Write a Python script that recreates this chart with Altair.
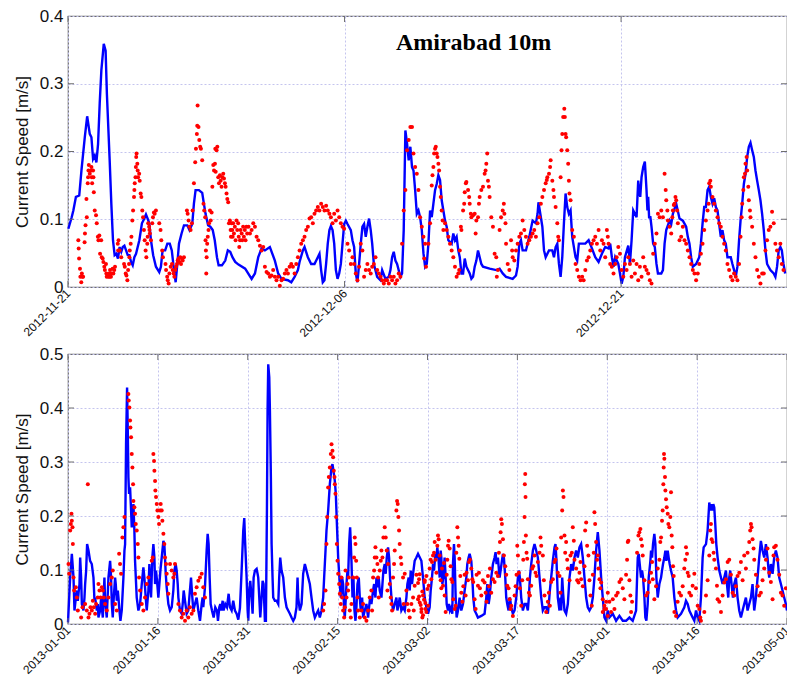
import altair as alt
import pandas as pd

# ---------------- text / axes ----------------
TITLE = "Amirabad 10m"
Y_TITLE = "Current Speed [m/s]"
TOP_START, TOP_END = "2012-11-21", "2012-12-30"
BOT_START, BOT_END = "2013-01-01", "2013-05-01"
TOP_TICKS = ["2012-11-21", "2012-12-06", "2012-12-21"]
BOT_TICKS = ["2013-01-01", "2013-01-16", "2013-01-31", "2013-02-15", "2013-03-02",
             "2013-03-17", "2013-04-01", "2013-04-16", "2013-05-01"]
TOP_YTICKS = [0, 0.1, 0.2, 0.3, 0.4]
BOT_YTICKS = [0, 0.1, 0.2, 0.3, 0.4, 0.5]
TITLE_POS = ("2012-12-13", 0.35)

# ---------------- data: (days after panel start, speed m/s) ----------------
MODEL_TOP = [
(0.02,.086),(0.20,.103),(0.29,.113),(0.43,.133),(0.61,.135),(0.73,.172),(0.91,.221),(1.04,.252),
(1.18,.226),(1.27,.221),(1.36,.189),(1.45,.194),(1.54,.184),(1.63,.211),(1.72,.271),(1.81,.320),
(1.94,.359),(2.04,.349),(2.11,.285),(2.26,.187),(2.35,.123),(2.44,.069),(2.53,.047),(2.62,.049),
(2.71,.042),(2.80,.059),(2.89,.052),(2.97,.059),(3.06,.061),(3.15,.054),(3.24,.047),(3.33,.047),
(3.42,.037),(3.51,.032),(3.60,.044),(3.69,.049),(3.87,.069),(4.01,.094),(4.14,.101),(4.23,.107),
(4.32,.101),(4.41,.094),(4.50,.069),(4.62,.047),(4.77,.030),(4.95,.022),(5.04,.030),(5.13,.054),
(5.27,.054),(5.39,.064),(5.52,.064),(5.63,.054),(5.75,.025),(5.84,.007),(5.93,.034),(6.02,.064),
(6.16,.079),(6.29,.091),(6.47,.091),(6.59,.084),(6.74,.093),(6.83,.123),(6.92,.143),(7.10,.143),
(7.28,.139),(7.37,.123),(7.46,.108),(7.60,.091),(7.72,.089),(7.85,.084),(7.96,.069),(8.08,.044),
(8.17,.032),(8.35,.032),(8.53,.039),(8.67,.054),(8.80,.052),(8.92,.044),(9.07,.037),(9.25,.033),
(9.61,.027),(9.96,.012),(10.14,.020),(10.32,.044),(10.50,.057),(10.68,.054),(10.95,.059),(11.22,.039),
(11.40,.020),(11.58,.012),(11.93,.010),(12.11,.007),(12.29,.015),(12.47,.025),(12.56,.037),(12.74,.054),
(12.83,.059),(13.01,.044),(13.19,.034),(13.37,.034),(13.55,.044),(13.64,.049),(13.73,.025),(13.82,.007),
(13.91,.010),(14.00,.034),(14.09,.064),(14.18,.084),(14.26,.090),(14.35,.084),(14.44,.064),(14.53,.025),
(14.62,.012),(14.71,.020),(14.80,.034),(14.89,.064),(14.98,.093),(15.07,.098),(15.16,.093),(15.34,.084),
(15.43,.069),(15.52,.059),(15.61,.020),(15.70,.007),(15.79,.034),(15.88,.064),(15.97,.089),(16.06,.093),
(16.15,.074),(16.24,.089),(16.33,.101),(16.42,.084),(16.50,.064),(16.59,.034),(16.77,.015),(16.95,.010),
(17.04,.025),(17.22,.012),(17.40,.015),(17.49,.025),(17.58,.044),(17.67,.052),(17.76,.039),(17.85,.034),
(18.03,.015),(18.12,.020),(18.21,.084),(18.30,.231),(18.39,.212),(18.48,.187),(18.57,.207),(18.66,.177),
(18.74,.172),(18.83,.143),(18.92,.108),(19.01,.113),(19.10,.103),(19.19,.084),(19.28,.050),(19.37,.030),
(19.46,.034),(19.55,.064),(19.64,.113),(19.73,.103),(19.82,.123),(19.91,.143),(20.00,.152),(20.09,.165),
(20.18,.158),(20.27,.128),(20.36,.113),(20.45,.098),(20.54,.089),(20.63,.069),(20.81,.064),(20.90,.079),
(20.99,.069),(21.08,.074),(21.17,.054),(21.25,.044),(21.34,.020),(21.43,.020),(21.52,.042),(21.61,.030),
(21.79,.020),(21.88,.012),(21.97,.015),(22.06,.030),(22.15,.039),(22.24,.054),(22.33,.044),(22.42,.034),
(22.51,.030),(22.87,.027),(23.23,.025),(23.41,.027),(23.58,.020),(23.76,.015),(24.12,.012),(24.30,.017),
(24.39,.030),(24.48,.064),(24.57,.069),(24.66,.054),(24.84,.054),(25.02,.074),(25.20,.098),(25.38,.094),
(25.47,.108),(25.52,.125),(25.59,.113),(25.73,.089),(25.82,.054),(25.91,.044),(26.09,.054),(26.27,.054),
(26.36,.044),(26.45,.059),(26.54,.064),(26.63,.034),(26.72,.015),(26.81,.044),(26.90,.094),(26.99,.138),
(27.08,.118),(27.17,.108),(27.26,.113),(27.35,.074),(27.53,.044),(27.62,.039),(27.71,.064),(28.06,.064),
(28.24,.069),(28.42,.057),(28.60,.044),(28.78,.037),(28.96,.049),(29.14,.059),(29.32,.057),(29.41,.064),
(29.50,.044),(29.59,.030),(29.68,.044),(29.85,.034),(29.94,.020),(30.03,.005),(30.12,.015),(30.21,.044),
(30.39,.061),(30.48,.034),(30.57,.069),(30.66,.113),(30.75,.108),(30.84,.103),(30.93,.157),(30.98,.143),
(31.04,.133),(31.11,.162),(31.20,.177),(31.29,.185),(31.38,.143),(31.43,.113),(31.47,.133),(31.52,.103),
(31.59,.103),(31.65,.089),(31.74,.064),(31.83,.059),(31.92,.034),(32.00,.020),(32.18,.020),(32.27,.025),
(32.36,.064),(32.45,.084),(32.63,.098),(32.72,.093),(32.81,.108),(32.99,.123),(33.17,.101),(33.35,.098),
(33.53,.089),(33.62,.074),(33.71,.064),(33.80,.044),(33.89,.030),(34.07,.034),(34.24,.044),(34.33,.064),
(34.42,.094),(34.51,.118),(34.60,.118),(34.69,.143),(34.78,.148),(34.87,.133),(34.96,.123),(35.05,.131),
(35.14,.118),(35.23,.113),(35.32,.093),(35.41,.074),(35.50,.084),(35.59,.069),(35.68,.064),(35.77,.044),
(35.95,.044),(36.04,.034),(36.13,.025),(36.22,.015),(36.31,.030),(36.40,.069),(36.48,.098),(36.57,.123),
(36.66,.152),(36.75,.167),(36.84,.192),(36.93,.207),(37.02,.213),(37.11,.202),(37.20,.192),(37.29,.172),
(37.38,.157),(37.47,.143),(37.56,.128),(37.65,.108),(37.74,.084),(37.83,.054),(37.92,.034),(38.10,.025),
(38.28,.020),(38.37,.015),(38.46,.030),(38.55,.054),(38.64,.059),(38.72,.054),(38.81,.034),(38.90,.020),
]

OBS_TOP = [
(0.56,.069),(0.58,.057),(0.60,.042),(0.65,.027),(0.67,.015),(0.72,.007),(0.75,.020),(0.78,.015),(0.82,.015),
(0.90,.066),(0.92,.079),(0.95,.091),(1.00,.130),(1.02,.103),(1.07,.153),(1.09,.162),(1.11,.172),(1.13,.180),
(1.18,.167),(1.25,.172),(1.27,.177),(1.29,.162),(1.31,.153),(1.36,.172),(1.38,.162),(1.40,.140),(1.45,.113),
(1.52,.106),(1.56,.094),(1.62,.074),(1.65,.069),(1.70,.076),(1.74,.049),(1.80,.069),(1.83,.044),(1.88,.042),
(1.92,.037),(1.97,.030),(2.00,.025),(2.06,.034),(2.08,.020),(2.10,.015),(2.15,.017),(2.19,.015),(2.24,.020),
(2.26,.015),(2.28,.025),(2.33,.015),(2.37,.020),(2.42,.027),(2.46,.020),(2.51,.025),(2.55,.030),(2.70,.064),
(2.72,.054),(2.74,.069),(2.80,.054),(2.89,.044),(3.04,.034),(3.08,.030),(3.13,.020),(3.17,.017),(3.22,.010),
(3.26,.025),(3.31,.034),(3.33,.044),(3.35,.054),(3.40,.064),(3.44,.074),(3.49,.098),(3.53,.113),(3.58,.133),
(3.60,.143),(3.62,.153),(3.66,.162),(3.68,.177),(3.70,.192),(3.72,.197),(3.76,.182),(3.78,.172),(3.80,.162),
(3.86,.167),(3.89,.157),(3.94,.138),(3.98,.133),(4.03,.113),(4.07,.103),(4.12,.084),(4.16,.069),(4.21,.054),
(4.25,.044),(4.30,.064),(4.32,.074),(4.35,.094),(4.40,.089),(4.42,.084),(4.44,.079),(4.50,.069),(4.57,.094),
(4.61,.103),(4.66,.110),(4.70,.108),(4.77,.113),(4.95,.094),(5.02,.084),(5.06,.069),(5.11,.054),(5.15,.044),
(5.29,.034),(5.32,.025),(5.38,.015),(5.41,.010),(5.46,.005),(5.50,.020),(5.57,.030),(5.64,.034),(5.68,.025),
(5.73,.020),(5.77,.015),(5.82,.025),(5.86,.030),(5.91,.034),(5.95,.039),(6.00,.042),(6.04,.037),(6.09,.044),
(6.13,.034),(6.18,.042),(6.22,.039),(6.29,.044),(6.45,.113),(6.49,.108),(6.54,.098),(6.58,.089),(6.65,.084),
(6.72,.094),(6.76,.113),(6.83,.153),(6.90,.184),(6.94,.204),(6.99,.226),(7.01,.238),(7.03,.268),(7.08,.236),
(7.12,.217),(7.17,.207),(7.21,.204),(7.28,.187),(7.35,.123),(7.39,.113),(7.44,.103),(7.46,.069),(7.48,.054),
(7.50,.020),(7.52,.044),(7.55,.064),(7.58,.074),(7.62,.084),(7.65,.094),(7.70,.113),(7.74,.098),(7.79,.110),
(7.83,.148),(7.88,.180),(7.92,.172),(7.97,.182),(7.99,.204),(8.01,.170),(8.06,.202),(8.10,.207),(8.15,.162),
(8.19,.153),(8.24,.165),(8.28,.157),(8.33,.148),(8.37,.162),(8.42,.167),(8.46,.160),(8.51,.153),(8.55,.148),
(8.60,.138),(8.64,.130),(8.69,.125),(8.73,.094),(8.78,.098),(8.82,.084),(8.84,.074),(8.87,.094),(8.91,.084),
(8.93,.074),(8.96,.094),(9.00,.079),(9.05,.089),(9.09,.069),(9.14,.098),(9.18,.084),(9.23,.094),(9.26,.074),
(9.29,.059),(9.33,.069),(9.36,.084),(9.42,.079),(9.45,.069),(9.50,.089),(9.54,.074),(9.59,.084),(9.63,.069),
(9.68,.089),(9.72,.079),(9.79,.089),(9.87,.079),(9.96,.084),(10.05,.094),(10.14,.089),(10.23,.074),(10.32,.069),
(10.41,.061),(10.50,.054),(10.59,.059),(10.68,.030),(10.77,.022),(10.86,.020),(10.95,.015),(11.04,.017),
(11.13,.025),(11.22,.015),(11.31,.010),(11.40,.015),(11.49,.002),(11.58,.010),(11.67,.012),(11.76,.020),
(11.85,.025),(11.93,.020),(12.02,.030),(12.11,.034),(12.20,.030),(12.29,.020),(12.38,.034),(12.47,.044),
(12.56,.054),(12.65,.064),(12.74,.069),(12.83,.074),(12.92,.084),(13.01,.089),(13.10,.101),(13.19,.103),
(13.28,.094),(13.37,.108),(13.46,.113),(13.55,.118),(13.64,.113),(13.73,.123),(13.82,.118),(13.91,.113),
(14.00,.120),(14.09,.113),(14.18,.108),(14.26,.103),(14.35,.094),(14.44,.108),(14.53,.098),(14.62,.113),
(14.71,.103),(14.80,.094),(14.89,.089),(14.98,.086),(15.16,.064),(15.25,.054),(15.34,.034),(15.43,.044),
(15.52,.034),(15.61,.020),(15.70,.010),(15.79,.030),(15.88,.064),(15.97,.054),(16.06,.015),(16.15,.025),
(16.24,.034),(16.33,.025),(16.42,.020),(16.50,.030),(16.59,.034),(16.68,.044),(16.77,.025),(16.86,.020),
(16.95,.015),(17.04,.010),(17.13,.005),(17.22,.010),(17.31,.010),(17.40,.005),(17.49,.015),(17.58,.010),
(17.67,.015),(17.76,.005),(17.85,.010),(17.94,.020),(18.03,.015),(18.12,.064),(18.21,.113),(18.30,.143),
(18.39,.202),(18.48,.217),(18.57,.236),(18.66,.236),(18.74,.197),(18.83,.177),(18.92,.167),(19.01,.143),
(19.10,.103),(19.19,.089),(19.28,.074),(19.32,.042),(19.37,.064),(19.42,.030),(19.55,.064),(19.64,.094),
(19.73,.150),(19.77,.165),(19.82,.177),(19.86,.197),(19.91,.204),(19.95,.207),(20.00,.197),(20.04,.192),
(20.09,.182),(20.13,.172),(20.18,.148),(20.22,.133),(20.27,.113),(20.32,.098),(20.36,.084),(20.45,.094),
(20.54,.084),(20.63,.074),(20.72,.064),(20.81,.054),(20.90,.044),(20.99,.030),(21.08,.015),(21.17,.020),
(21.22,.025),(21.25,.054),(21.31,.089),(21.34,.084),(21.43,.113),(21.49,.123),(21.52,.140),(21.58,.153),
(21.61,.155),(21.70,.143),(21.76,.133),(21.79,.123),(21.85,.108),(21.88,.103),(21.97,.106),(22.06,.108),
(22.11,.079),(22.15,.098),(22.24,.103),(22.29,.123),(22.33,.133),(22.42,.143),(22.51,.148),(22.60,.167),
(22.65,.172),(22.69,.182),(22.74,.197),(22.78,.157),(22.83,.148),(22.87,.133),(22.96,.103),(23.05,.089),
(23.14,.049),(23.23,.044),(23.26,.015),(23.32,.025),(23.41,.084),(23.49,.103),(23.58,.113),(23.64,.123),
(23.67,.108),(23.73,.094),(23.76,.064),(23.85,.034),(23.94,.025),(24.03,.069),(24.09,.054),(24.12,.044),
(24.21,.039),(24.30,.054),(24.39,.064),(24.48,.074),(24.57,.079),(24.66,.098),(24.75,.084),(24.84,.074),
(24.93,.064),(25.02,.069),(25.11,.074),(25.20,.079),(25.29,.084),(25.38,.074),(25.47,.094),(25.56,.103),
(25.65,.123),(25.73,.133),(25.82,.143),(25.91,.153),(25.97,.158),(26.00,.162),(26.09,.167),(26.15,.177),
(26.18,.187),(26.27,.157),(26.33,.143),(26.36,.133),(26.45,.118),(26.54,.094),(26.59,.074),(26.63,.069),
(26.72,.162),(26.77,.202),(26.81,.226),(26.86,.251),(26.92,.263),(26.95,.251),(26.99,.226),(27.02,.221),
(27.08,.202),(27.13,.182),(27.17,.157),(27.20,.138),(27.26,.128),(27.35,.084),(27.44,.074),(27.53,.034),
(27.62,.025),(27.71,.015),(27.80,.010),(27.89,.015),(27.97,.010),(28.06,.025),(28.15,.039),(28.24,.044),
(28.33,.054),(28.42,.064),(28.51,.069),(28.60,.074),(28.69,.064),(28.78,.084),(28.87,.054),(28.96,.069),
(29.05,.064),(29.14,.044),(29.23,.084),(29.28,.074),(29.32,.064),(29.41,.034),(29.50,.030),(29.59,.020),
(29.68,.034),(29.76,.044),(29.85,.059),(29.94,.049),(30.03,.025),(30.12,.015),(30.21,.034),(30.30,.025),
(30.39,.044),(30.48,.034),(30.57,.015),(30.66,.039),(30.75,.020),(30.84,.034),(30.93,.010),(31.02,.030),
(31.11,.015),(31.20,.044),(31.29,.030),(31.38,.025),(31.47,.020),(31.56,.010),(31.65,.005),(31.74,.049),
(31.83,.064),(31.92,.079),(32.00,.108),(32.09,.103),(32.18,.113),(32.27,.103),(32.36,.167),(32.42,.143),
(32.45,.128),(32.51,.113),(32.54,.098),(32.63,.089),(32.72,.079),(32.78,.103),(32.81,.113),(32.86,.121),
(32.90,.123),(32.95,.133),(32.99,.128),(33.04,.113),(33.08,.094),(33.17,.069),(33.26,.074),(33.35,.089),
(33.44,.069),(33.53,.064),(33.62,.054),(33.71,.044),(33.80,.034),(33.89,.025),(33.98,.020),(34.07,.010),
(34.16,.020),(34.24,.034),(34.33,.049),(34.42,.064),(34.51,.084),(34.60,.098),(34.69,.113),(34.75,.123),
(34.78,.153),(34.84,.157),(34.87,.148),(34.96,.133),(35.05,.123),(35.14,.113),(35.23,.103),(35.32,.094),
(35.41,.089),(35.50,.074),(35.59,.064),(35.68,.054),(35.77,.034),(35.86,.025),(35.95,.015),(36.04,.010),
(36.13,.020),(36.22,.015),(36.31,.010),(36.40,.034),(36.48,.074),(36.54,.103),(36.57,.123),(36.63,.143),
(36.66,.162),(36.72,.167),(36.75,.182),(36.81,.192),(36.84,.172),(36.90,.148),(36.93,.128),(36.99,.113),
(37.02,.103),(37.11,.089),(37.20,.064),(37.29,.044),(37.38,.025),(37.47,.015),(37.56,.005),(37.65,.020),
(37.74,.020),(37.83,.054),(37.92,.069),(38.01,.084),(38.10,.089),(38.19,.111),(38.28,.094),(38.37,.064),
(38.46,.054),(38.55,.044),(38.64,.064),(38.72,.034),(38.81,.025),
]

MODEL_BOT = [
(0.00,.003),(0.36,.086),(0.64,.130),(0.92,.086),(1.08,.025),(1.31,.049),(1.47,.062),(1.64,.043),(1.75,.056),
(1.92,.074),(2.03,.123),(2.19,.086),(2.31,.037),(2.58,.025),(2.75,.049),(2.86,.074),(3.03,.099),(3.19,.148),
(3.42,.136),(3.69,.117),(3.97,.111),(4.25,.086),(4.42,.043),(4.53,.049),(4.81,.025),(4.97,.037),(5.08,.012),
(5.36,.025),(5.53,.049),(5.64,.031),(5.81,.012),(6.08,.086),(6.19,.043),(6.47,.012),(6.75,.086),(7.03,.117),
(7.19,.086),(7.31,.037),(7.47,.012),(7.64,.049),(7.86,.086),(7.97,.074),(8.14,.043),(8.31,.062),(8.42,.049),
(8.58,.025),(8.75,.006),(8.97,.025),(9.25,.086),(9.42,.136),(9.53,.148),(9.69,.333),(9.86,.438),(9.97,.364),
(10.08,.272),(10.19,.241),(10.36,.253),(10.53,.210),(10.64,.179),(10.92,.222),(11.08,.173),(11.19,.117),
(11.47,.049),(11.75,.025),(12.03,.037),(12.31,.074),(12.58,.105),(12.75,.086),(12.97,.049),(13.14,.025),
(13.42,.062),(13.58,.111),(13.75,.068),(13.86,.049),(13.97,.086),(14.08,.123),(14.25,.148),(14.42,.123),
(14.53,.074),(14.69,.099),(14.86,.080),(15.08,.049),(15.25,.074),(15.42,.099),(15.64,.123),(15.92,.154),
(16.08,.148),(16.19,.123),(16.31,.093),(16.47,.068),(16.75,.037),(17.03,.025),(17.31,.031),(17.58,.062),
(17.75,.099),(17.97,.111),(18.14,.099),(18.31,.074),(18.42,.049),(18.69,.025),(18.97,.019),(19.14,.037),
(19.31,.062),(19.53,.043),(19.81,.019),(20.08,.025),(20.25,.049),(20.53,.086),(20.75,.049),(20.92,.025),
(21.19,.037),(21.47,.049),(21.75,.025),(22.03,.006),(22.31,.037),(22.47,.049),(22.58,.031),(22.86,.068),
(23.14,.136),(23.31,.167),(23.47,.148),(23.64,.086),(23.81,.037),(24.03,.025),(24.31,.012),(24.58,.031),
(24.86,.025),(25.03,.006),(25.25,.031),(25.42,.037),(25.58,.025),(25.81,.043),(25.97,.025),(26.25,.037),
(26.53,.031),(26.81,.056),(27.03,.031),(27.31,.025),(27.58,.043),(27.86,.025),(28.14,.019),(28.42,.008),
(28.70,.030),(28.98,.100),(29.25,.173),(29.42,.196),(29.53,.160),(29.81,.086),(29.98,.025),(30.09,.006),
(30.25,.062),(30.42,.080),(30.64,.049),(30.81,.019),(30.98,.086),(31.20,.099),(31.48,.102),(31.64,.093),
(31.75,.086),(31.92,.049),(32.09,.012),(32.31,.049),(32.48,.080),(32.64,.074),(32.86,.006),(33.03,.006),
(33.20,.210),(33.31,.395),(33.42,.481),(33.59,.457),(33.70,.395),(33.86,.272),(33.98,.148),(34.14,.086),
(34.25,.049),(34.53,.043),(34.81,.043),(35.09,.037),(35.25,.086),(35.42,.123),(35.64,.099),(35.92,.086),
(36.20,.049),(36.48,.031),(36.75,.025),(37.03,.019),(37.31,.012),(37.59,.006),(37.86,.012),(38.14,.031),
(38.31,.086),(38.42,.049),(38.70,.025),(38.98,.037),(39.25,.093),(39.53,.111),(39.81,.099),(40.09,.086),
(40.36,.074),(40.64,.049),(40.92,.025),(41.20,.012),(41.48,.019),(41.75,.025),(42.03,.012),(42.31,.025),
(42.59,.049),(42.75,.086),(42.98,.136),(43.14,.173),(43.42,.210),(43.70,.259),(43.98,.290),(44.14,.296),
(44.31,.284),(44.53,.265),(44.70,.241),(44.86,.191),(45.09,.123),(45.36,.074),(45.53,.049),(45.75,.086),
(45.92,.074),(46.09,.025),(46.20,.012),(46.48,.074),(46.64,.099),(46.75,.086),(46.92,.148),(47.09,.179),
(47.31,.117),(47.48,.049),(47.64,.086),(47.81,.025),(47.98,.006),(48.14,.031),(48.31,.074),(48.53,.086),
(48.70,.049),(48.86,.025),(49.09,.049),(49.25,.012),(49.53,.025),(49.81,.037),(50.09,.012),(50.25,.031),
(50.42,.049),(50.64,.037),(50.92,.062),(51.09,.074),(51.31,.049),(51.48,.086),(51.64,.068),(51.86,.086),
(52.03,.062),(52.31,.049),(52.48,.074),(52.64,.099),(52.86,.111),(53.03,.093),(53.20,.123),(53.42,.142),
(53.59,.123),(53.75,.086),(53.98,.049),(54.25,.025),(54.53,.037),(54.81,.049),(54.98,.025),(55.20,.037),
(55.36,.049),(55.64,.025),(55.92,.031),(56.20,.025),(56.48,.049),(56.64,.074),(56.86,.086),(57.03,.062),
(57.20,.099),(57.42,.074),(57.59,.093),(57.86,.117),(58.14,.123),(58.42,.130),(58.98,.117),(59.25,.086),
(59.53,.049),(59.81,.031),(60.09,.019),(60.36,.031),(60.53,.062),(60.75,.086),(60.92,.111),(61.09,.099),
(61.31,.130),(61.48,.123),(61.64,.142),(61.86,.117),(62.03,.086),(62.20,.136),(62.31,.123),(62.48,.074),
(62.64,.086),(62.86,.123),(63.03,.086),(63.20,.037),(63.42,.025),(63.59,.037),(63.75,.025),(63.98,.031),
(64.14,.019),(64.25,.111),(64.42,.148),(64.53,.123),(64.70,.049),(64.86,.012),(65.09,.025),(65.36,.049),
(65.53,.031),(65.64,.025),(65.92,.037),(66.20,.062),(66.48,.086),(66.64,.111),(66.86,.123),(67.03,.130),
(67.31,.117),(67.48,.086),(67.64,.049),(67.86,.025),(68.14,.019),(68.42,.012),(68.98,.015),(69.53,.019),
(69.81,.049),(69.98,.074),(70.20,.037),(70.36,.049),(70.64,.086),(70.92,.111),(71.20,.123),(71.36,.133),
(71.53,.111),(71.75,.123),(72.03,.086),(72.20,.099),(72.42,.117),(72.59,.130),(72.75,.123),(72.98,.086),
(73.14,.049),(73.31,.037),(73.53,.025),(73.75,.049),(73.98,.031),(74.25,.019),(74.53,.025),(74.81,.049),
(75.09,.086),(75.25,.099),(75.42,.086),(75.64,.049),(75.92,.025),(76.20,.037),(76.48,.037),(76.75,.025),
(76.92,.049),(77.09,.086),(77.31,.111),(77.59,.136),(77.86,.148),(78.14,.136),(78.42,.123),(78.70,.086),
(78.98,.049),(79.25,.025),(79.53,.031),(79.81,.031),(80.09,.019),(80.25,.037),(80.42,.062),(80.64,.086),
(80.92,.117),(81.20,.142),(81.36,.148),(81.53,.117),(81.75,.049),(82.03,.025),(82.20,.049),(82.31,.025),
(82.48,.086),(82.64,.056),(82.86,.025),(83.14,.019),(83.42,.037),(83.70,.086),(83.98,.111),(84.25,.099),
(84.53,.123),(84.81,.136),(85.09,.123),(85.36,.142),(85.64,.148),(85.92,.123),(86.20,.086),(86.48,.049),
(86.75,.031),(87.03,.025),(87.31,.031),(87.59,.049),(87.86,.086),(88.14,.136),(88.42,.170),(88.70,.136),
(88.98,.086),(89.25,.049),(89.53,.012),(89.81,.006),(90.09,.025),(90.36,.012),(90.92,.019),(91.48,.006),
(92.03,.015),(92.59,.006),(93.14,.006),(93.70,.012),(94.25,.006),(94.81,.025),(94.98,.086),(95.09,.123),
(95.25,.130),(95.42,.111),(95.64,.086),(95.81,.099),(95.98,.086),(96.20,.049),(96.36,.012),(96.53,.006),
(96.75,.037),(96.92,.086),(97.20,.117),(97.31,.136),(97.48,.123),(97.64,.148),(97.86,.167),(98.03,.148),
(98.20,.086),(98.42,.049),(98.70,.074),(98.98,.086),(99.14,.099),(99.31,.111),(99.53,.123),(99.70,.136),
(99.86,.117),(100.09,.136),(100.25,.123),(100.42,.111),(100.64,.099),(100.92,.086),(101.20,.049),(101.48,.025),
(101.75,.012),(102.31,.019),(102.86,.031),(103.14,.043),(103.42,.037),(103.70,.025),(104.25,.012),(104.53,.006),
(104.81,.025),(105.09,.012),(105.36,.006),(105.64,.049),(105.92,.123),(106.09,.142),(106.48,.148),(106.75,.173),
(107.03,.225),(107.20,.210),(107.36,.222),(107.53,.210),(107.70,.222),(107.86,.216),(108.03,.185),(108.20,.148),
(108.42,.123),(108.70,.099),(108.98,.086),(109.25,.074),(109.53,.086),(109.81,.099),(109.98,.074),(110.20,.049),
(110.36,.086),(110.53,.099),(110.75,.074),(110.98,.049),(111.20,.074),(111.48,.086),(111.75,.049),(112.03,.025),
(112.31,.012),(112.59,.025),(112.86,.037),(113.14,.049),(113.42,.025),(113.70,.037),(113.98,.049),(114.25,.074),
(114.53,.025),(114.81,.049),(115.09,.086),(115.36,.123),(115.64,.154),(115.92,.136),(116.20,.123),(116.48,.148),
(116.75,.123),(117.03,.086),(117.31,.111),(117.59,.093),(117.86,.123),(118.14,.136),(118.42,.123),(118.70,.086),
(118.98,.074),(119.25,.062),(119.53,.049),(119.81,.037),(120.00,.025),
]

OBS_BOT = [
(0.08,.111),(0.19,.093),(0.36,.173),(0.47,.185),(0.58,.204),(0.64,.191),(0.75,.179),(0.81,.148),(0.92,.086),
(1.03,.062),(1.31,.068),(1.47,.049),(1.64,.025),(2.19,.012),(2.42,.031),(2.86,.037),(3.14,.025),(3.31,.259),
(3.42,.012),(3.58,.019),(3.75,.031),(3.97,.025),(4.14,.043),(4.31,.031),(4.53,.019),(4.69,.037),(4.97,.049),
(5.08,.074),(5.25,.062),(5.42,.049),(5.64,.068),(5.81,.062),(5.97,.049),(6.19,.037),(6.47,.025),(6.75,.049),
(7.03,.074),(7.31,.086),(7.47,.099),(7.86,.037),(8.14,.025),(8.53,.130),(8.69,.111),(8.86,.093),(9.08,.160),
(9.25,.179),(9.42,.198),(10.08,.426),(10.14,.414),(10.25,.401),(10.36,.377),(10.42,.364),(10.53,.346),
(10.64,.315),(10.75,.290),(10.86,.259),(10.92,.228),(11.08,.216),(11.19,.204),(11.31,.185),(11.47,.173),
(11.64,.148),(11.75,.123),(11.86,.086),(12.03,.062),(12.31,.037),(12.58,.025),(12.86,.049),(13.14,.074),
(13.42,.086),(13.97,.117),(14.14,.123),(14.25,.315),(14.36,.302),(14.42,.284),(14.53,.265),(14.58,.247),
(14.69,.235),(14.81,.222),(14.92,.210),(15.08,.198),(15.19,.185),(15.36,.210),(15.47,.222),(15.64,.210),
(15.75,.191),(15.92,.167),(16.08,.148),(16.19,.123),(16.36,.111),(16.47,.093),(16.64,.074),(16.75,.056),
(17.03,.111),(17.31,.099),(17.58,.086),(17.75,.093),(17.86,.111),(18.42,.037),(18.69,.025),(18.97,.012),
(19.25,.019),(19.53,.006),(19.81,.025),(20.08,.012),(20.36,.031),(20.64,.019),(20.92,.025),(21.19,.056),
(21.47,.068),(21.75,.080),(22.03,.086),(22.31,.093),(22.58,.068),(22.86,.049),
(42.59,.025),(42.75,.037),(42.98,.062),(43.14,.148),(43.25,.198),(43.42,.253),(43.53,.272),(43.70,.290),
(43.86,.315),(43.98,.333),(44.14,.321),(44.25,.309),(44.36,.284),(44.48,.272),(44.53,.259),(44.64,.241),
(44.75,.198),(44.86,.148),(44.98,.117),(45.09,.093),(45.25,.074),(45.36,.056),(45.53,.037),(45.64,.086),
(45.75,.049),(45.92,.025),(46.09,.012),(46.20,.031),(46.31,.099),(46.48,.049),(46.64,.074),(46.75,.062),
(46.86,.086),(47.03,.025),(47.20,.012),(47.31,.037),(47.59,.086),(47.75,.123),(47.86,.160),(47.98,.148),
(48.09,.117),(48.20,.086),(48.31,.049),(48.42,.025),(48.70,.012),(48.98,.025),(49.25,.037),(49.53,.012),
(49.81,.006),(50.09,.025),(50.36,.049),(50.64,.062),(50.75,.025),(50.92,.086),(51.09,.099),(51.20,.123),
(51.31,.142),(51.48,.123),(51.64,.111),(51.75,.086),(51.86,.049),(52.03,.099),(52.20,.117),(52.31,.136),
(52.48,.123),(52.64,.160),(52.86,.179),(53.03,.160),(53.20,.136),(53.31,.062),(53.42,.111),(53.70,.074),
(53.86,.049),(53.98,.037),(54.09,.025),(54.25,.086),(54.42,.111),(54.53,.136),(54.81,.210),(54.92,.228),
(55.03,.222),(55.14,.198),(55.25,.173),(55.36,.148),(55.53,.123),(55.64,.111),(55.92,.086),(56.03,.037),
(56.20,.093),(56.48,.062),(56.64,.037),(56.86,.025),(57.03,.012),(57.31,.037),(57.59,.049),(57.70,.025),
(57.86,.071),(58.14,.091),(58.42,.046),(58.59,.083),(58.70,.040),(58.98,.022),(59.14,.012),(59.25,.053),
(59.53,.078),(59.64,.028),(59.81,.089),(60.09,.034),
(58.42,.076),(58.59,.051),(58.70,.092),(58.86,.035),(58.98,.028),(59.14,.060),(59.25,.016),(59.42,.045),
(59.53,.081),(59.64,.039),(59.81,.022),(59.98,.065),(60.20,.071),(60.36,.103),(60.53,.119),(60.64,.083),
(60.75,.115),(60.92,.127),(61.09,.132),(61.20,.152),(61.36,.119),(61.48,.095),(61.64,.145),(61.75,.164),
(61.86,.157),(62.03,.127),(62.20,.081),(62.31,.066),(62.42,.103),(62.59,.071),(62.75,.113),(62.86,.053),
(63.03,.022),(63.20,.091),(63.31,.119),(63.42,.145),(63.53,.154),(63.70,.140),(63.86,.107),(63.98,.083),
(64.14,.078),(64.31,.046),(64.53,.028),(64.70,.034),(64.81,.132),(64.98,.179),(65.09,.160),(65.20,.145),
(65.31,.121),(65.48,.089),(65.64,.058),(65.81,.041),(65.98,.070),(66.20,.091),(66.36,.053),(66.53,.095),
(66.75,.081),(66.92,.115),(67.09,.119),(67.31,.103),(67.48,.083),(67.64,.078),(67.86,.046),(68.03,.028),
(68.20,.091),(68.42,.071),(68.59,.095),(68.75,.066),(68.98,.053),(69.25,.081),(69.53,.077),(69.70,.058),
(69.86,.041),(70.09,.089),(70.25,.070),(70.42,.103),(70.64,.058),(70.92,.083),(71.20,.078),(71.48,.095),
(71.75,.089),(71.92,.132),(72.09,.152),(72.20,.170),(72.31,.194),(72.42,.185),(72.59,.157),(72.75,.127),
(72.98,.107),(73.14,.091),(73.31,.071),(73.53,.066),(73.70,.046),(73.86,.028),(73.98,.034),(74.25,.015),
(74.53,.053),(74.70,.070),(74.86,.091),(74.98,.145),(75.09,.127),(75.25,.095),(75.42,.066),(75.64,.034),
(75.81,.081),(75.98,.119),(76.09,.152),(76.20,.198),(76.25,.259),(76.31,.278),(76.36,.235),(76.42,.164),
(76.53,.132),(76.64,.121),(76.75,.083),(76.92,.058),(77.09,.053),(77.31,.071),(77.48,.103),(77.64,.107),
(77.86,.127),(78.03,.095),(78.20,.089),(78.42,.115),(78.70,.132),(78.86,.160),(78.98,.145),(79.25,.127),
(79.42,.081),(79.53,.053),(79.81,.022),(80.09,.041),(80.25,.058),(80.42,.034),(80.64,.078),(80.92,.083),
(81.20,.115),(81.36,.119),(81.53,.140),(81.75,.095),(82.03,.089),(82.20,.058),(82.31,.160),(82.48,.210),
(82.59,.247),(82.70,.235),(82.86,.164),(82.98,.132),(83.14,.152),(83.31,.119),(83.42,.103),(83.70,.081),
(83.86,.127),(84.09,.132),(84.25,.179),(84.42,.154),(84.53,.119),(84.81,.103),(84.98,.081),(85.20,.077),
(85.36,.095),(85.53,.115),(85.64,.083),(85.92,.070),(86.20,.107),(86.31,.173),(86.48,.188),(86.64,.145),
(86.86,.127),(87.03,.081),(87.20,.053),(87.42,.034),(87.59,.091),(87.75,.132),(87.86,.207),(87.98,.185),
(88.14,.152),(88.31,.119),(88.53,.103),(88.70,.083),(88.98,.077),(89.25,.046),(89.53,.028),(89.81,.041),
(90.09,.058),
(88.42,.127),(88.86,.066),(89.25,.022),(89.53,.034),(89.81,.028),(90.09,.015),(90.36,.041),(90.64,.022),
(90.92,.046),(91.20,.028),(91.48,.053),(91.75,.058),(92.03,.078),(92.31,.083),(92.59,.066),(92.86,.046),
(93.14,.091),(93.31,.119),(93.42,.152),(93.53,.154),(93.70,.081),(93.86,.053),(93.98,.022),(94.14,.041),
(94.98,.132),(95.20,.164),(95.36,.170),(95.53,.176),(95.64,.157),(95.81,.145),(95.92,.127),(96.20,.081),
(96.48,.053),(96.75,.058),(97.03,.078),(97.31,.095),(97.48,.115),(97.59,.083),(97.86,.046),(98.14,.070),
(98.42,.103),(98.70,.119),(98.86,.152),(98.98,.160),(99.14,.191),(99.25,.210),(99.36,.259),(99.42,.290),
(99.47,.315),(99.53,.306),(99.64,.272),(99.70,.247),(99.81,.231),(99.92,.216),(100.09,.204),(100.20,.185),
(100.36,.179),(100.53,.198),(100.64,.244),(100.75,.164),(100.86,.142),(100.98,.107),(101.09,.089),
(101.20,.022),(101.48,.015),(101.75,.041),(102.03,.058),(102.31,.053),(102.59,.070),(102.86,.103),
(103.03,.119),(103.14,.142),(103.31,.130),(103.42,.095),(103.59,.089),(103.70,.058),(103.98,.053),
(104.25,.071),(104.53,.093),(104.81,.066),(105.09,.034),(105.36,.028),(105.53,.012),(105.64,.006),
(106.20,.022),(106.48,.053),(106.75,.081),(107.03,.127),(107.20,.173),(107.31,.185),(107.42,.157),
(107.59,.152),(107.75,.132),(107.86,.119),(108.14,.103),(108.31,.071),(108.42,.046),(108.70,.041),
(108.98,.022),(109.25,.053),(109.53,.077),(109.81,.083),(110.09,.115),(110.36,.119),(110.64,.091),
(110.92,.058),(111.20,.053),(111.48,.070),(111.75,.089),(112.03,.095),(112.31,.115),(112.59,.081),
(112.86,.127),(113.14,.103),(113.42,.132),(113.70,.152),(113.86,.173),(113.98,.185),(114.09,.179),
(114.25,.157),(114.42,.140),(114.53,.119),(114.81,.091),(115.09,.070),(115.36,.053),(115.64,.058),
(115.92,.081),(116.20,.103),(116.48,.119),(116.75,.140),(117.03,.095),(117.31,.078),(117.59,.046),
(117.75,.127),(117.86,.142),(118.14,.145),(118.42,.119),(118.70,.091),(118.98,.058),(119.25,.053),
(119.53,.034),(119.81,.066),
]

# ---------------- styling ----------------
FONT = "Liberation Sans"
BLUE = "#0000ff"
RED = "#ff0000"
GRID = "#c4c4ee"
FRAME = "#6e6e6e"
W = 719
H_TOP, H_BOT = 271, 270


def iso(ts):
    return ts.strftime("%Y-%m-%dT%H:%M:%SZ")


def series(start, pairs):
    t0 = pd.Timestamp(start)
    return pd.DataFrame({
        "t": [iso(t0 + pd.Timedelta(days=d)) for d, _ in pairs],
        "v": [v for _, v in pairs],
    })


def dt(s):
    ts = pd.Timestamp(s)
    return alt.DateTime(year=ts.year, month=ts.month, date=ts.day, utc=True)


def panel(model, obs, start, end, ticks, yticks, height, extra=None):
    xs = alt.Scale(type="utc", domain=[dt(start), dt(end)], nice=False)
    ys = alt.Scale(domain=[yticks[0], yticks[-1]], nice=False, zero=True)
    xaxis = alt.Axis(values=[dt(t) for t in ticks], format="%Y-%m-%d", title=None,
                     labelAngle=315, labelAlign="right", labelBaseline="middle",
                     labelFont=FONT, labelFontSize=12, labelColor="#111", labelPadding=4,
                     ticks=False, domain=False, grid=True, gridColor=GRID, gridDash=[2, 2],
                     gridWidth=1, labelOverlap=False, labelFlush=False)
    yaxis = alt.Axis(values=yticks, format="~g", title=Y_TITLE, titleFont=FONT,
                     titleFontSize=17, titleFontWeight="normal", titleColor="#111",
                     titlePadding=8, labelFont=FONT, labelFontSize=17, labelColor="#111",
                     labelPadding=5, ticks=False, domain=False, grid=True, gridColor=GRID,
                     gridDash=[2, 2], gridWidth=1)
    line = alt.Chart(series(start, model)).mark_line(color=BLUE, strokeWidth=2.4).encode(
        x=alt.X("t:T", scale=xs, axis=xaxis), y=alt.Y("v:Q", scale=ys, axis=yaxis))
    pts = alt.Chart(series(start, obs)).mark_circle(color=RED, size=16, opacity=1).encode(
        x=alt.X("t:T", scale=xs), y=alt.Y("v:Q", scale=ys))
    ytk = pd.DataFrame({"v": yticks[1:-1]})
    xtk = pd.DataFrame({"t": [iso(pd.Timestamp(t)) for t in ticks]})
    tick_l = alt.Chart(ytk).mark_rule(color=FRAME).encode(
        y="v:Q", x=alt.value(0), x2=alt.value(6))
    tick_r = alt.Chart(ytk).mark_rule(color=FRAME).encode(
        y="v:Q", x=alt.value(W - 6), x2=alt.value(W))
    tick_b = alt.Chart(xtk).mark_rule(color=FRAME).encode(
        x=alt.X("t:T", scale=xs), y=alt.value(height - 6), y2=alt.value(height))
    tick_t = alt.Chart(xtk).mark_rule(color=FRAME).encode(
        x=alt.X("t:T", scale=xs), y=alt.value(0), y2=alt.value(6))
    layers = [line, pts, tick_l, tick_r, tick_b, tick_t]
    if extra is not None:
        layers.append(extra)
    return alt.layer(*layers).properties(width=W, height=height)


title_df = pd.DataFrame({"t": [iso(pd.Timestamp(TITLE_POS[0]))], "v": [TITLE_POS[1]], "label": [TITLE]})
title_mark = alt.Chart(title_df).mark_text(
    font="Liberation Serif", fontSize=24, fontWeight="bold", color="black",
    align="center", baseline="alphabetic").encode(x="t:T", y="v:Q", text="label:N")

top = panel(MODEL_TOP, OBS_TOP, TOP_START, TOP_END, TOP_TICKS, TOP_YTICKS, H_TOP, title_mark)
bot = panel(MODEL_BOT, OBS_BOT, BOT_START, BOT_END, BOT_TICKS, BOT_YTICKS, H_BOT)

chart = alt.vconcat(top, bot, spacing=4).properties(
    padding={"left": 4, "top": -2, "right": -6, "bottom": 0},
    background="white",
).configure_view(stroke=FRAME, strokeWidth=1.2)

chart.save("out.html", embed_options={"renderer": "svg", "actions": False})
